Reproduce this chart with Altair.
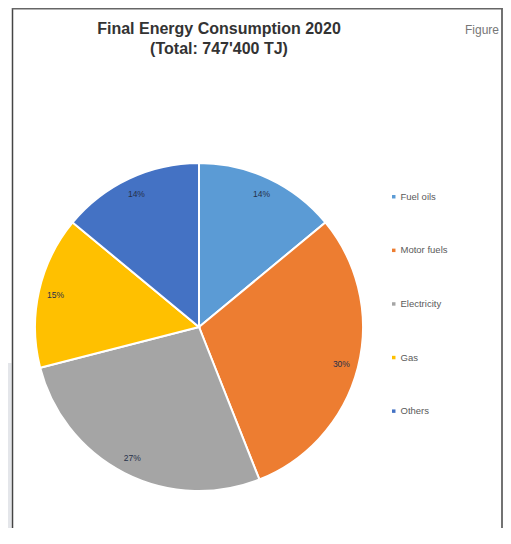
import altair as alt
import pandas as pd

categories = ["Fuel oils", "Motor fuels", "Electricity", "Gas", "Others"]
shares = [14, 30, 27, 15, 14]
palette = ["#5B9BD5", "#ED7D31", "#A5A5A5", "#FFC000", "#4472C4"]
title_lines = ["Final Energy Consumption 2020", "(Total: 747'400 TJ)"]
side_note = "Figure"

df = pd.DataFrame({"cat": categories, "share": shares, "order": list(range(len(categories)))})
df["label"] = df["share"].astype(str) + "%"

W, H = 495, 520
cx, cy, R = 191, 319, 164

pie = alt.Chart(df).mark_arc(outerRadius=R, stroke="white", strokeWidth=2).encode(
    theta=alt.Theta("share:Q", stack=True),
    order=alt.Order("order:Q"),
    color=alt.Color(
        "cat:N",
        scale=alt.Scale(domain=categories, range=palette),
        sort=categories,
        legend=alt.Legend(
            title=None, orient="none", legendX=381, legendY=184,
            symbolType="square", symbolSize=12, symbolStrokeWidth=0,
            labelFontSize=9.5, labelColor="#5a5a5a", labelFont="Liberation Sans",
            rowPadding=42.6, labelOffset=2,
        ),
    ),
    x=alt.value(cx),
    y=alt.value(cy),
)

labels = alt.Chart(df).mark_text(radius=147, fontSize=8.5, color="#26304a", font="Liberation Sans").encode(
    theta=alt.Theta("share:Q", stack=True),
    order=alt.Order("order:Q"),
    text="label:N",
    x=alt.value(cx),
    y=alt.value(cy),
)

t1 = alt.Chart(pd.DataFrame({"t": [title_lines[0]]})).mark_text(
    fontSize=16, fontWeight="bold", font="Liberation Sans", color="#333333"
).encode(text="t:N", x=alt.value(211), y=alt.value(20.5))
t2 = alt.Chart(pd.DataFrame({"t": [title_lines[1]]})).mark_text(
    fontSize=16, fontWeight="bold", font="Liberation Sans", color="#333333"
).encode(text="t:N", x=alt.value(211), y=alt.value(41))
fig = alt.Chart(pd.DataFrame({"t": [side_note]})).mark_text(
    fontSize=12, font="Liberation Sans", color="#777777", align="right"
).encode(text="t:N", x=alt.value(491), y=alt.value(22))

strip = alt.Chart(pd.DataFrame({"a": [0]})).mark_rect(color="#e4e6ea").encode(
    x=alt.value(0), x2=alt.value(3.5), y=alt.value(355), y2=alt.value(H)
)
frame_l = alt.Chart(pd.DataFrame({"a": [0]})).mark_rule(color="#444444", strokeWidth=1.5).encode(
    x=alt.value(4.5), y=alt.value(0), y2=alt.value(H)
)
frame_r = alt.Chart(pd.DataFrame({"a": [0]})).mark_rule(color="#444444", strokeWidth=1.5).encode(
    x=alt.value(494), y=alt.value(0), y2=alt.value(H)
)
frame_t = alt.Chart(pd.DataFrame({"a": [0]})).mark_rule(color="#666666", strokeWidth=1.5).encode(
    x=alt.value(4), x2=alt.value(494.5), y=alt.value(0.75)
)

chart = alt.layer(strip, frame_l, frame_r, frame_t, pie, labels, t1, t2, fig).properties(
    width=W, height=H, padding=0, autosize=alt.AutoSizeParams(type="none"), background="white"
).configure_view(stroke=None)

chart.save("out.html", embed_options={"renderer": "svg", "actions": False})
